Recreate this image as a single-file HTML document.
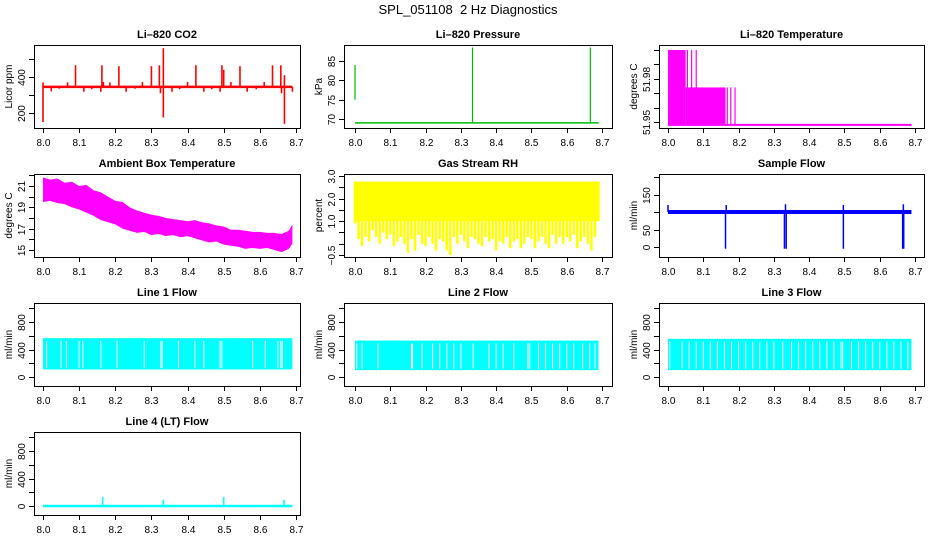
<!DOCTYPE html>
<html><head><meta charset="utf-8">
<style>
html,body{margin:0;padding:0;background:#fff;}
svg{display:block;font-family:"Liberation Sans",sans-serif;}
</style></head>
<body>
<svg id="chart" width="936" height="540" viewBox="0 0 936 540">
<text x="468" y="14" text-anchor="middle" font-size="13" xml:space="preserve" style="white-space:pre">SPL_051108  2 Hz Diagnostics</text>
</svg>
<script>
// ---- data ----
const xTicks = [8.0, 8.1, 8.2, 8.3, 8.4, 8.5, 8.6, 8.7];
const xTickLabels = ["8.0","8.1","8.2","8.3","8.4","8.5","8.6","8.7"];
const tStart = 8.0, tEnd = 8.69;

const co2Base = 345;
const co2SpikeTimes = [8.0,8.0,8.023,8.045,8.068,8.09,8.113,8.135,8.16,8.163,8.167,8.185,8.21,8.23,8.255,8.275,8.3,8.322,8.325,8.333,8.333,8.357,8.378,8.4,8.423,8.445,8.467,8.49,8.495,8.5,8.52,8.545,8.565,8.59,8.612,8.635,8.658,8.66,8.668,8.668,8.69];
const co2SpikeValues = [150,370,320,335,370,465,318,332,318,465,372,370,460,318,335,372,460,465,310,560,175,318,332,372,465,318,332,318,465,440,372,460,318,332,372,465,465,310,410,140,318];

const pressBase = 69;
const pressSpikeTimes = [8.0, 8.333, 8.667];
const pressSpikeLow = [75, 69, 69];
const pressSpikeHigh = [84, 88.5, 88.5];

const tempSegStart = [8.0, 8.05, 8.163];
const tempSegEnd = [8.05, 8.163, 8.69];
const tempSegValue = [52.0, 51.974, 51.948];
const tempLineTimes = [8.055, 8.067, 8.08, 8.168, 8.178, 8.19];
const tempLineValues = [52.0, 52.0, 52.0, 51.974, 51.974, 51.974];
const tempFloor = 51.948;

const ambTimes = [8.0,8.02,8.04,8.06,8.08,8.1,8.12,8.14,8.16,8.18,8.2,8.22,8.24,8.26,8.28,8.3,8.32,8.34,8.36,8.38,8.4,8.42,8.44,8.46,8.48,8.5,8.52,8.54,8.56,8.58,8.6,8.62,8.64,8.66,8.68,8.69];
const ambHigh = [21.8,21.6,21.7,21.3,21.4,21.0,21.1,20.6,20.4,20.0,19.6,19.5,19.0,18.7,18.5,18.3,18.2,18.0,17.9,17.8,17.7,17.8,17.6,17.5,17.3,17.2,16.9,16.9,16.8,16.7,16.7,16.6,16.6,16.5,16.8,17.4];
const ambLow = [19.5,19.6,19.4,19.3,19.0,18.8,18.5,18.2,17.8,17.6,17.4,17.0,16.8,16.6,16.7,16.4,16.5,16.3,16.4,16.2,16.3,16.1,15.9,15.7,15.8,15.5,15.4,15.3,15.1,15.2,15.1,15.2,15.0,14.8,15.1,15.6];

const rhHigh = 2.75;
const rhBandLow = 1.0;
const rhSpikeTimes = [8.0,8.01,8.02,8.03,8.04,8.05,8.06,8.07,8.08,8.09,8.1,8.11,8.12,8.13,8.14,8.15,8.16,8.17,8.18,8.19,8.2,8.21,8.22,8.23,8.24,8.25,8.26,8.27,8.28,8.29,8.3,8.31,8.32,8.33,8.34,8.35,8.36,8.37,8.38,8.39,8.4,8.41,8.42,8.43,8.44,8.45,8.46,8.47,8.48,8.49,8.5,8.51,8.52,8.53,8.54,8.55,8.56,8.57,8.58,8.59,8.6,8.61,8.62,8.63,8.64,8.65,8.66,8.67,8.68,8.69];
const rhSpikeLow = [0.9,0.2,-0.1,0.3,0.1,0.6,0.3,0.0,0.5,0.2,0.4,-0.1,0.1,0.3,0.0,-0.4,0.2,-0.3,0.4,0.0,-0.1,0.3,0.0,-0.3,0.2,0.1,-0.3,-0.5,0.3,0.0,0.4,0.1,-0.2,0.3,0.2,0.0,-0.1,0.3,0.1,0.2,-0.3,0.1,0.0,0.3,-0.2,0.1,0.2,-0.2,0.0,0.3,0.2,-0.2,0.1,0.3,0.0,-0.2,0.4,0.0,0.3,0.0,0.3,0.1,0.4,-0.2,0.1,0.3,0.0,-0.3,0.3,1.0];

const sfLevel = 100;
const sfDipTimes = [8.163, 8.33, 8.335, 8.497, 8.665, 8.668];
const sfDipLow = [-5, -5, -5, -5, -5, -5];
const sfPeakTimes = [8.0, 8.165, 8.333, 8.497, 8.667];
const sfPeakValues = [120, 120, 122, 120, 122];

const flowNames = ["Line 1 Flow","Line 2 Flow","Line 3 Flow"];
const flowHigh = [565, 530, 555];
const flowLow = [110, 100, 100];
const flow1Gaps = [8.01,8.05,8.065,8.1,8.11,8.16,8.205,8.28,8.326,8.33,8.375,8.42,8.445,8.49,8.495,8.58,8.615,8.65,8.658,8.662];
const flow2Gaps = [8.005,8.02,8.065,8.16,8.163,8.19,8.22,8.24,8.26,8.28,8.3,8.335,8.38,8.4,8.42,8.45,8.49,8.495,8.52,8.54,8.56,8.58,8.6,8.62,8.645,8.665,8.68];
const flow3Gaps = [8.005,8.04,8.06,8.08,8.1,8.12,8.14,8.16,8.18,8.2,8.22,8.24,8.26,8.28,8.3,8.325,8.35,8.37,8.39,8.41,8.43,8.45,8.47,8.49,8.495,8.52,8.54,8.56,8.58,8.6,8.62,8.64,8.66,8.68];

const lt4Base = 0;
const lt4SpikeTimes = [8.165, 8.333, 8.5, 8.667];
const lt4SpikeValues = [130, 90, 130, 90];

// ---- layout ----
const svg = document.getElementById('chart');
const NS = 'http://www.w3.org/2000/svg';
const colBox = [[34,300],[344,612],[659,924]];
const colX = [[43,296],[355,602],[668,915]];
const rowTop = [45,174,303,432];
const boxH = 83;

function el(tag, attrs, parent){
  const e = document.createElementNS(NS, tag);
  for (const k in attrs) e.setAttribute(k, attrs[k]);
  (parent||svg).appendChild(e);
  return e;
}
function xScale(col){ const [a,b]=colX[col]; return t => a + (t-8.0)/(0.7)*(b-a); }
function yScale(v0,p0,v1,p1){ return v => p0 + (v-v0)*(p1-p0)/(v1-v0); }

function panel(name, col, row, title, ytitle, ys, yTicks, yLabels){
  const g = el('g', {});
  
  
  const [l,r] = colBox[col]; const top = rowTop[row]; const bot = top+boxH;
  const x = xScale(col);
  const box = el('rect', {x:l+0.5, y:top+0.5, width:r-l, height:boxH, fill:'none', stroke:'#000', 'stroke-width':1}, g);
  
  
  const t = el('text', {x:(l+r)/2, y:top-7, 'text-anchor':'middle', 'font-size':11, 'font-weight':'bold'}, g);
  t.textContent = title;
  
  
  const xa = el('g', {}, g);
  
  
  el('line', {x1:x(xTicks[0]), x2:x(xTicks[xTicks.length-1]), y1:bot+0.5, y2:bot+0.5, stroke:'#000'}, xa);
  xTicks.forEach((tv,i)=>{
    const px = Math.round(x(tv))+0.5;
    el('line', {x1:px, x2:px, y1:bot, y2:bot+5, stroke:'#000'}, xa);
    const lb = el('text', {x:px, y:bot+18, 'text-anchor':'middle', 'font-size':10}, xa);
    lb.textContent = xTickLabels[i];
    
    
  });
  const ya = el('g', {}, g);
  
  
  const yp = yTicks.map(ys);
  el('line', {x1:l+0.5, x2:l+0.5, y1:Math.min(...yp), y2:Math.max(...yp), stroke:'#000'}, ya);
  yTicks.forEach((tv,i)=>{
    const py = Math.round(ys(tv))+0.5;
    el('line', {x1:l-5, x2:l, y1:py, y2:py, stroke:'#000'}, ya);
    if (yLabels[i] !== '') {
      const lb = el('text', {x:0, y:0, 'text-anchor':'middle', 'font-size':10, transform:`translate(${l-9},${py}) rotate(-90)`}, ya);
      lb.textContent = yLabels[i];
      
      
    }
  });
  const yt = el('text', {x:0, y:0, 'text-anchor':'middle', 'font-size':10, transform:`translate(${l-22},${top+boxH/2}) rotate(-90)`}, g);
  yt.textContent = ytitle;
  
  
  const d = el('g', {}, g);
  
  
  return {g:d, x, ys};
}
function vline(p, t, v0, v1, color, w){
  const ln = el('line', {x1:p.x(t), x2:p.x(t), y1:p.ys(v0), y2:p.ys(v1), stroke:color, 'stroke-width':w||1.5}, p.g);
  
  
  return ln;
}
function hline(p, t0, t1, v, color, w){
  const ln = el('line', {x1:p.x(t0), x2:p.x(t1), y1:p.ys(v), y2:p.ys(v), stroke:color, 'stroke-width':w||2}, p.g);
  
  
  return ln;
}
function band(p, t0, t1, lo, hi, color){
  const y1 = p.ys(hi), y2 = p.ys(lo);
  const r = el('rect', {x:p.x(t0), y:Math.min(y1,y2), width:p.x(t1)-p.x(t0), height:Math.abs(y2-y1), fill:color}, p.g);
  
  
  return r;
}

// CO2
{
  const p = panel('co2', 0, 0, 'Li\u2013820 CO2', 'Licor ppm', yScale(200,113,400,77), [200,300,400,500], ['200','','400','']);
  hline(p, tStart, tEnd, co2Base, '#ff0000', 2.5);
  co2SpikeTimes.forEach((t,i)=> vline(p, t, co2Base, co2SpikeValues[i], '#ff0000', 1.6));
}
// Pressure
{
  const p = panel('pressure', 1, 0, 'Li\u2013820 Pressure', 'kPa', yScale(70,119,85,61), [70,75,80,85], ['70','75','80','85']);
  hline(p, tStart, tEnd, pressBase, '#00bb00', 1.5);
  pressSpikeTimes.forEach((t,i)=> vline(p, t, pressSpikeLow[i], pressSpikeHigh[i], '#00bb00', 1.2));
}
// Li-820 Temperature
{
  const p = panel('li820-temp', 2, 0, 'Li\u2013820 Temperature', 'degrees C', yScale(51.95,122,51.96,107.6), [51.95,51.96,51.97,51.98,51.99,52.0], ['51.95','','','51.98','','']);
  tempSegStart.forEach((t,i)=> band(p, t, tempSegEnd[i], tempFloor, tempSegValue[i], '#ff00ff'));
  hline(p, tStart, tEnd, tempFloor, '#ff00ff', 2);
  tempLineTimes.forEach((t,i)=> vline(p, t, tempFloor, tempLineValues[i], '#ff00ff', 1.2));
}
// Ambient
{
  const p = panel('ambient-temp', 0, 1, 'Ambient Box Temperature', 'degrees C', yScale(15,250,21,186), [15,16,17,18,19,20,21,22], ['15','','17','','19','','21','']);
  let pts = ambTimes.map((t,i)=>`${p.x(t)},${p.ys(ambHigh[i])}`);
  for (let i=ambTimes.length-1;i>=0;i--) pts.push(`${p.x(ambTimes[i])},${p.ys(ambLow[i])}`);
  const poly = el('polygon', {points:pts.join(' '), fill:'#ff00ff'}, p.g);
  
  
}
// RH
{
  const p = panel('gas-rh', 1, 1, 'Gas Stream RH', 'percent', yScale(-0.5,255,3.0,176), [-0.5,0,0.5,1.0,1.5,2.0,2.5,3.0], ['\u22120.5','','','1.0','','2.0','','3.0']);
  band(p, tStart, tEnd, rhBandLow, rhHigh, '#ffff00');
  rhSpikeTimes.forEach((t,i)=> vline(p, t, rhSpikeLow[i], rhHigh, '#ffff00', 2.5));
}
// Sample flow
{
  const p = panel('sample-flow', 2, 1, 'Sample Flow', 'ml/min', yScale(0,247,50,229.5), [0,50,100,150,200], ['0','50','','150','']);
  hline(p, tStart, tEnd, sfLevel, '#0000ff', 4);
  sfDipTimes.forEach((t,i)=> vline(p, t, sfDipLow[i], sfLevel, '#0000ff', 1.5));
  sfPeakTimes.forEach((t,i)=> vline(p, t, sfLevel, sfPeakValues[i], '#0000ff', 1.5));
}
// Line flows
const gapsAll = [flow1Gaps, flow2Gaps, flow3Gaps];
flowNames.forEach((nm, k)=>{
  const p = panel('line'+(k+1)+'-flow', k, 2, nm, 'ml/min', yScale(0,377,800,322), [0,200,400,600,800,1000], ['0','','400','','800','']);
  band(p, tStart, tEnd, flowLow[k], flowHigh[k], '#00ffff');
  gapsAll[k].forEach(t=> vline(p, t, flowLow[k]+20, flowHigh[k]-40, '#ffffff', 1));
});
// Line 4
{
  const p = panel('line4-flow', 0, 3, 'Line 4 (LT) Flow', 'ml/min', yScale(0,506,800,451), [0,200,400,600,800,1000], ['0','','400','','800','']);
  hline(p, tStart, tEnd, lt4Base, '#00ffff', 2.5);
  lt4SpikeTimes.forEach((t,i)=> vline(p, t, lt4Base, lt4SpikeValues[i], '#00ffff', 1.6));
}
</script>
</body></html>
